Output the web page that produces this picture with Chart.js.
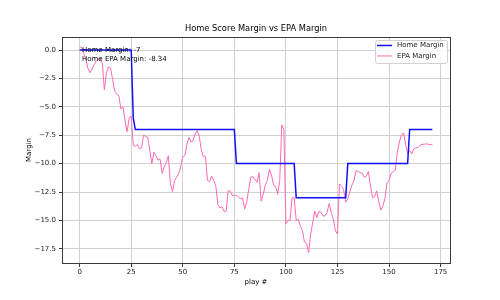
<!DOCTYPE html>
<html><head><meta charset="utf-8">
<script src="https://cdn.jsdelivr.net/npm/chart.js@4"></script>
<style>html,body{margin:0;padding:0;background:#fff}</style>
</head><body>
<canvas id="c" width="500" height="300"></canvas>
<script>
const seriesLabels = ['Home Margin', 'EPA Margin'];
const chartTitle = 'Home Score Margin vs EPA Margin';
const xLabel = 'play #';
const yLabel = 'Margin';
const annotationLines = ['Home Margin: -7', 'Home EPA Margin: -8.34'];
const xTicks = [0, 25, 50, 75, 100, 125, 150, 175];
const yTicks = [0, -2.5, -5, -7.5, -10, -12.5, -15, -17.5];

const homeMargin = [
  0,0,0,0,0,0,0,0,0,0,
  0,0,0,0,0,0,0,0,0,0,
  0,0,0,0,0,0,
  -6,
  -7,-7,-7,-7,-7,-7,-7,-7,-7,-7,
  -7,-7,-7,-7,-7,-7,-7,-7,-7,-7,
  -7,-7,-7,-7,-7,-7,-7,-7,-7,-7,
  -7,-7,-7,-7,-7,-7,-7,-7,-7,-7,
  -7,-7,-7,-7,-7,-7,-7,-7,-7,
  -10,-10,-10,-10,-10,-10,-10,-10,-10,-10,
  -10,-10,-10,-10,-10,-10,-10,-10,-10,-10,
  -10,-10,-10,-10,-10,-10,-10,-10,-10,
  -13,-13,-13,-13,-13,-13,-13,-13,-13,-13,
  -13,-13,-13,-13,-13,-13,-13,-13,-13,-13,
  -13,-13,-13,-13,-13,
  -10,-10,-10,-10,-10,-10,-10,-10,-10,-10,
  -10,-10,-10,-10,-10,-10,-10,-10,-10,-10,
  -10,-10,-10,-10,-10,-10,-10,-10,-10,-10,
  -7,-7,-7,-7,-7,-7,-7,-7,-7,-7,-7,-7
];

const epaMargin = [
  0.3, 0.2, -0.3, -0.8, -1.6, -2.0, -1.7, -1.3, -1.0, -0.8,
  -0.7, -1.2, -3.5, -2.0, -1.5, -1.6, -2.6, -3.6, -3.9, -4.0,
  -5.2, -5.0, -6.2, -7.2, -6.0, -5.8, -8.4, -8.5, -8.3, -8.7,
  -8.6, -7.5, -7.6, -7.7, -8.8, -10.0, -9.0, -9.3, -9.7, -9.6,
  -10.85, -10.3, -9.9, -9.3, -11.8, -12.45, -11.5, -11.2, -10.9, -10.3,
  -9.4, -9.3, -8.3, -7.7, -8.1, -8.0, -7.4, -7.1, -7.6, -8.8,
  -9.4, -9.4, -11.5, -11.6, -11.1, -11.5, -11.9, -13.6, -13.9, -13.8,
  -14.2, -14.2, -12.4, -12.4, -12.8, -12.8, -12.8, -12.9, -13.1, -13.0,
  -14.0, -13.4, -12.2, -11.2, -11.15, -11.4, -11.65, -10.8, -13.3, -12.7,
  -11.9, -11.5, -10.5, -11.0, -11.9, -12.0, -12.7, -11.5, -6.6, -7.0,
  -15.3, -15.0, -15.0, -13.0, -13.0, -15.0, -14.9, -15.5, -15.9, -16.9,
  -17.0, -17.85, -16.2, -15.2, -14.2, -14.75, -14.2, -14.3, -14.6, -14.6,
  -14.3, -13.5, -14.3, -14.9, -15.9, -16.2, -11.8, -12.0, -12.3, -13.4,
  -13.1, -12.5, -11.9, -11.5, -10.6, -10.7, -10.8, -10.85, -11.2, -11.1,
  -10.7, -11.95, -13.0, -12.9, -12.4, -13.3, -14.1, -13.7, -13.1, -11.7,
  -11.5, -10.9, -10.7, -10.6, -9.0, -8.1, -7.5, -7.3, -8.3, -9.1,
  -8.85, -9.15, -8.7, -8.6, -8.6, -8.4, -8.3, -8.3, -8.25, -8.3,
  -8.32, -8.34
];

const FAMILY = '"DejaVu Sans", sans-serif';
const baseFont = {family: FAMILY, size: 7, weight: 'normal'};

const overlayPlugin = {
  id: 'overlay',
  afterDatasetsDraw(chart) {
    const ctx = chart.ctx;
    const a = chart.chartArea;
    ctx.save();
    // spines
    ctx.strokeStyle = '#3a3a3a';
    ctx.lineWidth = 1;
    ctx.strokeRect(Math.round(a.left) + 0.5, Math.round(a.top) + 0.5,
                   Math.round(a.right - a.left), Math.round(a.bottom - a.top));
    // annotation text
    ctx.fillStyle = '#000';
    ctx.font = '7px ' + FAMILY;
    ctx.textBaseline = 'middle';
    ctx.textAlign = 'left';
    annotationLines.forEach((t, i) => ctx.fillText(t, a.left + 20, a.top + 13 + i * 9));
    // legend
    const bw = 72, bh = 23;
    const bx = a.right - 3 - bw, by = a.top + 3;
    ctx.fillStyle = 'rgba(255,255,255,0.85)';
    ctx.strokeStyle = '#d0d0d0';
    ctx.lineWidth = 1;
    ctx.beginPath();
    if (ctx.roundRect) ctx.roundRect(bx + 0.5, by + 0.5, bw, bh, 2); else ctx.rect(bx + 0.5, by + 0.5, bw, bh);
    ctx.fill(); ctx.stroke();
    chart.data.datasets.forEach((ds, i) => {
      const yy = by + 5.5 + i * 10.5;
      ctx.strokeStyle = ds.borderColor;
      ctx.lineWidth = ds.borderWidth;
      ctx.beginPath();
      ctx.moveTo(bx + 2, yy); ctx.lineTo(bx + 17, yy);
      ctx.stroke();
      ctx.fillStyle = '#222';
      ctx.fillText(ds.label, bx + 22, yy);
    });
    ctx.restore();
  }
};

new Chart(document.getElementById('c'), {
  type: 'line',
  data: {
    datasets: [
      {label: seriesLabels[0], data: homeMargin.map((v, i) => ({x: i, y: v})),
       borderColor: '#1010ff', borderWidth: 1.5, pointRadius: 0, tension: 0, fill: false},
      {label: seriesLabels[1], data: epaMargin.map((v, i) => ({x: i, y: v})),
       borderColor: '#ff69b4', borderWidth: 1, pointRadius: 0, tension: 0, fill: false}
    ]
  },
  options: {
    responsive: false,
    animation: false,
    devicePixelRatio: 1,
    layout: {padding: {left: 0, right: 50, top: 0, bottom: 0}},
    plugins: {
      legend: {display: false},
      tooltip: {enabled: false},
      title: {display: true, text: chartTitle, fullSize: false, color: '#000',
              font: {family: FAMILY, size: 8.3, weight: 'normal'}, padding: {top: 24, bottom: 3}}
    },
    scales: {
      x: {
        type: 'linear', min: -8.55, max: 179.55,
        afterBuildTicks: s => { s.ticks = xTicks.map(v => ({value: v})); },
        afterFit: s => { s.height = 37; },
        grid: {color: '#d2d2d2', tickColor: '#3a3a3a', tickLength: 4, drawTicks: true},
        border: {display: false},
        ticks: {font: baseFont, color: '#222', padding: 1, maxRotation: 0, autoSkip: false,
                callback: v => String(v)},
        title: {display: true, text: xLabel, color: '#000', font: baseFont, padding: {top: 0, bottom: 14}}
      },
      y: {
        type: 'linear', min: -18.75, max: 1.15,
        afterBuildTicks: s => { s.ticks = yTicks.map(v => ({value: v})); },
        afterFit: s => { s.width = 62; },
        grid: {color: '#d2d2d2', tickColor: '#3a3a3a', tickLength: 3, drawTicks: true},
        border: {display: false},
        ticks: {font: baseFont, color: '#222', padding: 3, autoSkip: false,
                callback: v => (v < 0 ? '\u2212' : '') + Math.abs(v).toFixed(1)},
        title: {display: true, text: yLabel, color: '#000', font: baseFont, padding: {top: 25, bottom: 0}}
      }
    }
  },
  plugins: [overlayPlugin]
});
</script>
</body></html>
